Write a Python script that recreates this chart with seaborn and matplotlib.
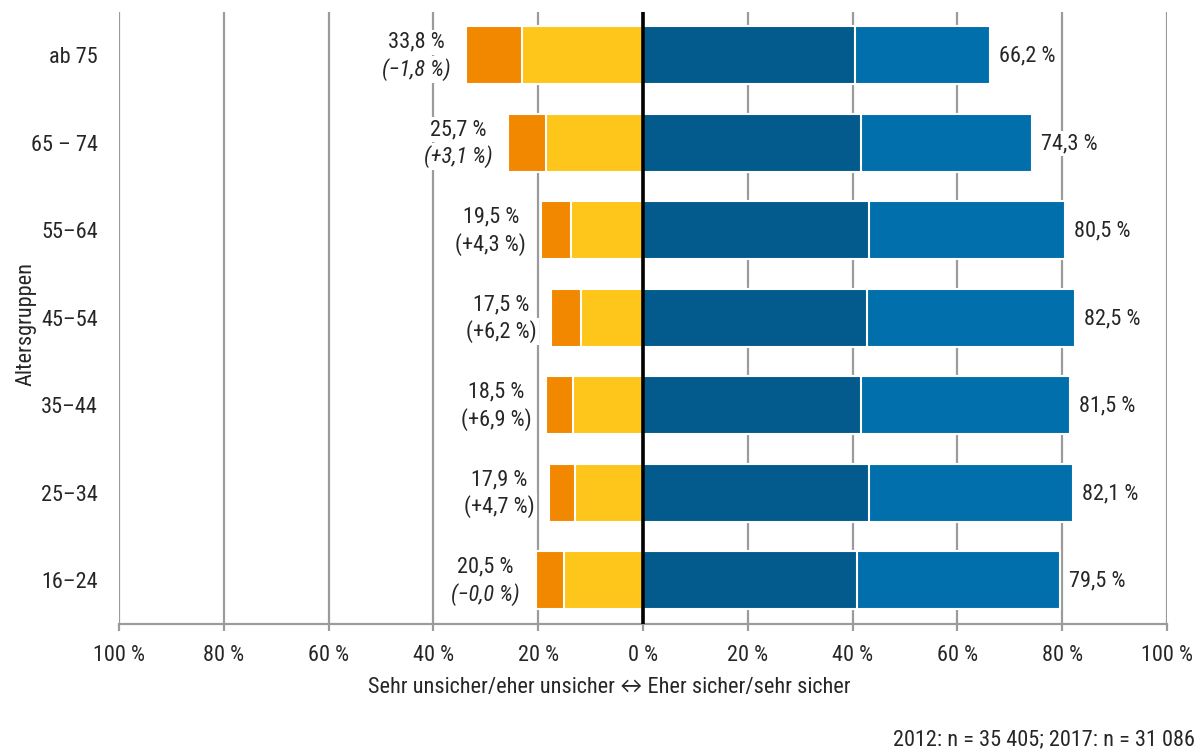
import pandas as pd
import seaborn as sns
import matplotlib.pyplot as plt

# Altersgruppen, oben beginnend
groups = ["ab 75", "65 – 74", "55–64", "45–54", "35–44", "25–34", "16–24"]

# linke Seite: sehr unsicher + eher unsicher (Summe), davon eher unsicher
unsicher_total = [33.8, 25.7, 19.5, 17.5, 18.5, 17.9, 20.5]
eher_unsicher = [23.1, 18.6, 13.8, 11.9, 13.3, 12.9, 15.1]

# rechte Seite: eher sicher + sehr sicher (Summe), davon eher sicher
sicher_total = [66.2, 74.3, 80.5, 82.5, 81.5, 82.1, 79.5]
eher_sicher = [40.4, 41.6, 43.2, 42.8, 41.6, 43.2, 40.8]

# Veraenderung gegenueber 2012
changes = ["−1,8 %", "+3,1 %", "+4,3 %", "+6,2 %", "+6,9 %", "+4,7 %", "−0,0 %"]
change_italic = [True, True, False, False, False, False, True]

x_ticks = [-100, -80, -60, -40, -20, 0, 20, 40, 60, 80, 100]

c_orange = "#F28700"
c_yellow = "#FEC51A"
c_dark = "#035B8D"
c_light = "#016FAB"
c_grid = "#9B9B9B"

sns.set_theme(style="white")
plt.rcParams["font.family"] = ["Roboto Condensed", "Lato", "DejaVu Sans"]
plt.rcParams["font.size"] = 16

df = pd.DataFrame({
    "group": groups,
    "unsicher_total": [-v for v in unsicher_total],
    "eher_unsicher": [-v for v in eher_unsicher],
    "sicher_total": sicher_total,
    "eher_sicher": eher_sicher,
})

fig = plt.figure(figsize=(11.99, 7.53), dpi=100)
ax = fig.add_axes([119 / 1199, 1 - 624 / 753, 1048 / 1199, 612.5 / 753])

bar_kws = dict(orient="h", width=0.66, saturation=1, edgecolor="white", linewidth=1.5, ax=ax)
sns.barplot(data=df, x="unsicher_total", y="group", color=c_orange, **bar_kws)
sns.barplot(data=df, x="eher_unsicher", y="group", color=c_yellow, **bar_kws)
sns.barplot(data=df, x="sicher_total", y="group", color=c_light, **bar_kws)
sns.barplot(data=df, x="eher_sicher", y="group", color=c_dark, **bar_kws)

ax.axvline(0, color="black", lw=2.6, zorder=5)

def fmt(v):
    return f"{v:.1f}".replace(".", ",") + " %"

box = dict(facecolor="white", edgecolor="none", pad=1.5)
for i, g in enumerate(groups):
    tot = unsicher_total[i]
    ax.annotate(fmt(tot), xy=(-tot, i), xytext=(-50, 13), textcoords="offset pixels",
                ha="center", va="center", fontsize=16, bbox=box, zorder=6)
    ax.annotate(f"({changes[i]})", xy=(-tot, i), xytext=(-50, -14), textcoords="offset pixels",
                ha="center", va="center", fontsize=16, bbox=box, zorder=6,
                style="italic" if change_italic[i] else "normal")
    ax.annotate(fmt(sicher_total[i]), xy=(sicher_total[i], i), xytext=(9, -1),
                textcoords="offset pixels", ha="left", va="center", fontsize=16,
                bbox=box, zorder=6)

ax.set_xlim(-100, 100)
ax.set_ylim(6.5, -0.5)
ax.set_xticks(x_ticks)
ax.set_xticklabels([f"{abs(t)} %" for t in x_ticks])
ax.grid(axis="x", color=c_grid, lw=1.6)
ax.grid(axis="y", visible=False)
ax.set_axisbelow(True)

for side in ["top", "right", "left"]:
    ax.spines[side].set_visible(False)
ax.spines["bottom"].set_color(c_grid)
ax.spines["bottom"].set_linewidth(1.6)

ax.tick_params(axis="x", bottom=True, direction="out", length=5, width=1.6,
               color=c_grid, pad=10, labelsize=16)
ax.tick_params(axis="y", left=False, pad=9, labelsize=16)

ax.set_xlabel("")
ax.set_ylabel("Altersgruppen", fontsize=16)
ax.yaxis.set_label_coords(-0.079, 0.49)

fig.text(609 / 1199, 1 - 688 / 753, "Sehr unsicher/eher unsicher ↔ Eher sicher/sehr sicher",
         ha="center", va="center", fontsize=16)
fig.text(1195 / 1199, 1 - 740 / 753, "2012: n = 35 405; 2017: n = 31 086",
         ha="right", va="center", fontsize=16)

fig.savefig("out.png", dpi=100)
